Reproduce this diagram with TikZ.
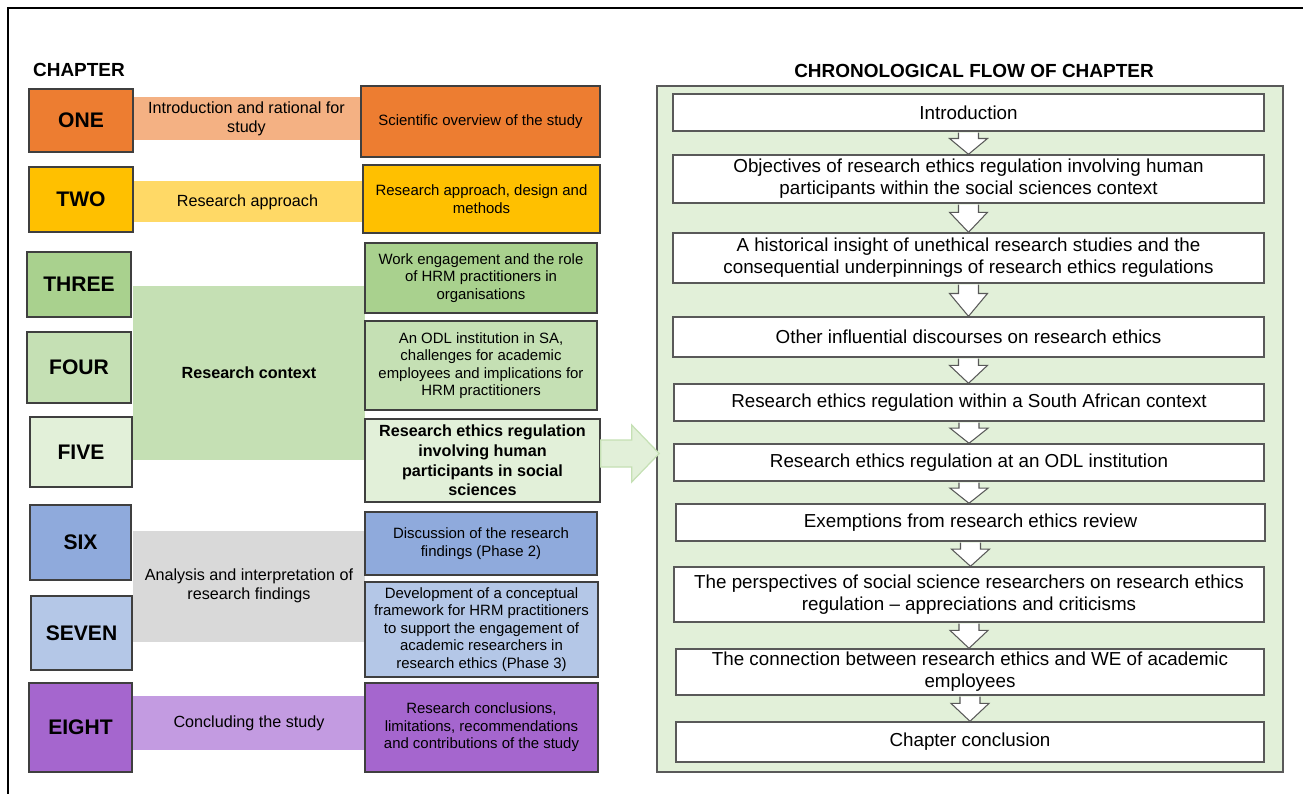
\documentclass[tikz,border=0pt]{standalone}
\usepackage{fontspec}
\setmainfont{Liberation Sans}
\usetikzlibrary{calc}
\definecolor{cOne}{HTML}{ED7D31}
\definecolor{cOneL}{HTML}{F4B183}
\definecolor{cTwo}{HTML}{FFC000}
\definecolor{cTwoL}{HTML}{FFD966}
\definecolor{cThree}{HTML}{A9D18E}
\definecolor{cFour}{HTML}{C5E0B4}
\definecolor{cFive}{HTML}{E2F0D9}
\definecolor{cSix}{HTML}{8FAADC}
\definecolor{cSeven}{HTML}{B4C7E7}
\definecolor{cGrey}{HTML}{D9D9D9}
\definecolor{cEight}{HTML}{A566CE}
\definecolor{cEightL}{HTML}{C39BE1}
\definecolor{cEdge}{HTML}{3F3F3F}
\definecolor{cFlow}{HTML}{595959}
\newcommand{\pxu}{0.02cm}
\newcommand{\flowarrow}[2]{%
  \coordinate (hb) at ($(#1.south)!0.3!(#1.south |- #2.north)$);
  \filldraw[flowarr] ($(#1.south)+(-10,0.8)$) -- ($(hb)+(-10,0)$) -- ($(hb)+(-19,0)$)
    -- (#1.south |- #2.north) -- ($(hb)+(19,0)$) -- ($(hb)+(10,0)$) -- ($(#1.south)+(10,0.8)$);
}

\begin{document}
\begin{tikzpicture}[x=0.02cm, y=-0.02cm,
  sz/.style 2 args={minimum width=#1*\pxu, minimum height=#2*\pxu},
  chap/.style={draw=cEdge, line width=0.8pt, inner sep=0pt, font=\fontsize{12}{14}\selectfont\bfseries},
  band/.style={inner sep=0pt, align=center, font=\fontsize{9.2}{10.8}\selectfont},
  detail/.style={draw=cEdge, line width=0.8pt, inner sep=0pt, align=center, font=\fontsize{8.5}{10}\selectfont},
  flow/.style={draw=cFlow, fill=white, line width=0.8pt, inner sep=0pt, align=center, font=\fontsize{10.7}{12.5}\selectfont},
  flowarr/.style={draw=cFlow, fill=white, line width=0.6pt},
  heading/.style={font=\fontsize{10.8}{13}\selectfont\bfseries}]
\useasboundingbox (0,0) rectangle (1303,794);
\draw[line width=1.4pt] (8,794) -- (8,8) -- (1303,8);

\node[heading] (chaptitle) at (79,70) {CHAPTER};
\node[heading] (flowtitle) at (974,71) {CHRONOLOGICAL FLOW OF CHAPTER};

\node[band, fill=cOneL, sz={227}{43}] (b1) at (246.5,118.5) {Introduction and rational for\\study};
\node[band, fill=cTwoL, sz={229}{41}] (b2) at (247.5,202) {Research approach};
\node[band, fill=cFour, sz={232}{174}, font=\fontsize{9.2}{11}\selectfont\bfseries] (b3) at (249,373) {Research context};
\node[band, fill=cGrey, sz={232}{111}] (b4) at (249,586) {Analysis and interpretation of\\research findings};
\node[band, fill=cEightL, sz={232}{54}] (b5) at (249,723) {Concluding the study};

\node[chap, fill=cOne, sz={104}{63}] (one) at (81,120.5) {ONE};
\node[chap, fill=cTwo, sz={104}{65}] (two) at (81,199.5) {TWO};
\node[chap, fill=cThree, sz={104}{65}] (three) at (79,284.5) {THREE};
\node[chap, fill=cFour, sz={104}{71}] (four) at (79,367.5) {FOUR};
\node[chap, fill=cFive, sz={102}{70}] (five) at (81,452) {FIVE};
\node[chap, fill=cSix, sz={101}{75}] (six) at (80.5,542.5) {SIX};
\node[chap, fill=cSeven, sz={101}{74}] (seven) at (81.5,633) {SEVEN};
\node[chap, fill=cEight, sz={103}{89}] (eight) at (80.5,727.5) {EIGHT};

\node[detail, fill=cOne, sz={239}{71}] (d1) at (480.5,121.5) {Scientific overview of the study};
\node[detail, fill=cTwo, sz={237}{68}] (d2) at (481.5,199) {Research approach, design and\\methods};
\node[detail, fill=cThree, sz={232}{70}] (d3) at (481,278) {Work engagement and the role\\of HRM practitioners in\\organisations};
\node[detail, fill=cFour, sz={232}{89}] (d4) at (481,365.5) {An ODL institution in SA,\\challenges for academic\\employees and implications for\\HRM practitioners};
\node[detail, fill=cFive, sz={235}{83}, font=\fontsize{9.2}{11.2}\selectfont\bfseries] (d5) at (482.5,460.5) {Research ethics regulation\\involving human\\participants in social\\sciences};
\node[detail, fill=cSix, sz={232}{63}] (d6) at (481,543.5) {Discussion of the research\\findings (Phase 2)};
\node[detail, fill=cSeven, sz={233}{95}] (d7) at (481.5,629.5) {Development of a conceptual\\framework for HRM practitioners\\to support the engagement of\\academic researchers in\\research ethics (Phase 3)};
\node[detail, fill=cEight, sz={233}{89}] (d8) at (481.5,727.5) {Research conclusions,\\limitations, recommendations\\and contributions of the study};

\node[draw=cFlow, fill=cFive, line width=0.9pt, sz={626}{686}] (panel) at (970,429) {};

\node[flow, sz={591}{37}] (f1) at (968.5,112.5) {Introduction};
\node[flow, sz={591}{48}] (f2) at (968.5,179) {Objectives of research ethics regulation involving human\\participants within the social sciences context};
\node[flow, sz={591}{50}] (f3) at (968.5,258) {A historical insight of unethical research studies and the\\consequential underpinnings of research ethics regulations};
\node[flow, sz={591}{40}] (f4) at (968.5,337) {Other influential discourses on research ethics};
\node[flow, sz={590}{37}] (f5) at (969,402.5) {Research ethics regulation within a South African context};
\node[flow, sz={590}{37}] (f6) at (969,462.5) {Research ethics regulation at an ODL institution};
\node[flow, sz={589}{37}] (f7) at (970.5,522.5) {Exemptions from research ethics review};
\node[flow, sz={590}{55}] (f8) at (969,594.5) {The perspectives of social science researchers on research ethics\\regulation -- appreciations and criticisms};
\node[flow, sz={588}{46}] (f9) at (970,672) {The connection between research ethics and WE of academic\\employees};
\node[flow, sz={588}{40}] (f10) at (970,742) {Chapter conclusion};

\foreach \a/\b in {f1/f2,f2/f3,f3/f4,f4/f5,f5/f6,f6/f7,f7/f8,f8/f9,f9/f10} {
\flowarrow{\a}{\b}
}

\coordinate (ta) at ($(d5.east)+(0,-7)$);
\coordinate (tb) at (panel.west |- ta);
\filldraw[fill=cFive, draw=cFour, line width=0.7pt] ($(ta)+(0,-13.5)$) -- ($(ta)+(31,-13.5)$) -- ($(ta)+(31,-28.5)$)
  -- ($(tb)+(3,0)$) -- ($(ta)+(31,28.5)$) -- ($(ta)+(31,13.5)$) -- ($(ta)+(0,13.5)$) -- cycle;
\end{tikzpicture}
\end{document}
